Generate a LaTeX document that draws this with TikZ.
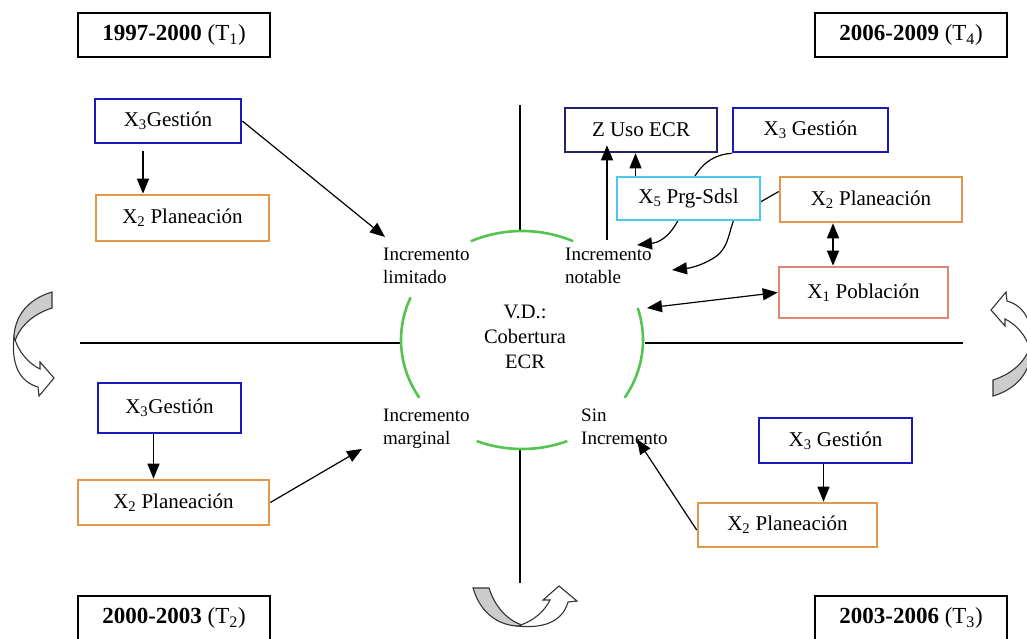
\documentclass[tikz,border=0pt]{standalone}
\usepackage{fontspec}
\setmainfont{Liberation Serif}
\usetikzlibrary{arrows.meta,backgrounds}

\definecolor{gestblue}{RGB}{25,25,190}
\definecolor{usonavy}{RGB}{35,35,105}
\definecolor{planorange}{RGB}{226,152,72}
\definecolor{prgcyan}{RGB}{75,200,240}
\definecolor{pobsalmon}{RGB}{222,135,112}
\definecolor{ringgreen}{RGB}{85,195,80}

\tikzset{
  cyclearrow/.pic={
    \path[draw=black!80,line width=1.1pt,fill=gray!40] (22,-51) .. controls (-5,-43) and (-18,-23) .. (-16,2)
      .. controls (-13,-13) and (0,-28) .. (22,-35) -- cycle;
    \path[draw=black!80,line width=1.1pt,fill=white] (-16,-6) .. controls (-10,12) and (0,21) .. (10,26)
      -- (10,19) -- (24,35) -- (9,53) -- (8,44) .. controls (-10,39) and (-19,22) .. (-16,-6) -- cycle;
  }
}

\begin{document}
\begin{tikzpicture}[x=1pt,y=-1pt,
  >={Triangle[length=15pt,width=12pt]},
  yearbox/.style={draw,line width=1.3pt,minimum width=192pt,minimum height=44pt,font=\fontsize{23}{27}\selectfont},
  varbox/.style={draw=#1,line width=2.6pt,fill=white,inner sep=0pt,font=\fontsize{21}{25}\selectfont},
  tag/.style={anchor=north west,align=left,inner sep=0pt,font=\fontsize{19}{23}\selectfont},
  axis/.style={line width=1.3pt},
  ring/.style={draw=ringgreen,line width=2.6pt},
  arr/.style={->,line width=1.2pt},
  darr/.style={<->,line width=1.2pt}]

\useasboundingbox (0,0) rectangle (1027,638);

% periods
\node[yearbox] (t1) at (174,35) {\textbf{1997-2000} (T\textsubscript{1})};
\node[yearbox] (t4) at (911,35) {\textbf{2006-2009} (T\textsubscript{4})};
\node[yearbox] (t2) at (174,618) {\textbf{2000-2003} (T\textsubscript{2})};
\node[yearbox] (t3) at (911,618) {\textbf{2003-2006} (T\textsubscript{3})};

% axes and ring
\coordinate (ctr) at (522,340);
\draw[axis] (80,343) -- (402,343);
\draw[axis] (645,343) -- (963,343);
\draw[axis] (520,105) -- (520,231);
\draw[axis] (520,449) -- (520,583);
\draw[ring] (ctr) ++(-115:121 and 109) arc[start angle=-115,end angle=-65,x radius=121,y radius=109];
\draw[ring] (ctr) ++(148:121 and 109) arc[start angle=148,end angle=203,x radius=121,y radius=109];
\draw[ring] (ctr) ++(-17:121 and 109) arc[start angle=-17,end angle=32,x radius=121,y radius=109];
\draw[ring] (ctr) ++(68:121 and 109) arc[start angle=68,end angle=112,x radius=121,y radius=109];

\node[align=center,inner sep=0pt,font=\fontsize{20.5}{25}\selectfont] (vd) at (525,337) {V.D.:\\Cobertura\\ECR};
\node[tag] (lim) at (383,248) {Incremento\\limitado};
\node[tag] (notab) at (565,248) {Incremento\\notable};
\node[tag] (marg) at (383,409) {Incremento\\marginal};
\node[tag] (sin) at (581,409) {Sin\\Incremento};

% T1
\node[varbox=gestblue,minimum width=146pt,minimum height=44pt] (g1) at (168,121) {X\textsubscript{3}Gestión};
\node[varbox=planorange,minimum width=173pt,minimum height=46pt] (p1) at (182.5,218) {X\textsubscript{2} Planeación};
\draw[arr] ([shift={(-25,7)}]g1.south) -- ([xshift=-25]g1.south |- p1.north);
\draw[arr] (g1.east) -- ([shift={(2,-11)}]lim.north west);

% T2
\node[varbox=gestblue,minimum width=143pt,minimum height=50pt] (g2) at (169.5,408) {X\textsubscript{3}Gestión};
\node[varbox=planorange,minimum width=191pt,minimum height=45pt] (p2) at (173.5,502.5) {X\textsubscript{2} Planeación};
\draw[arr] ([xshift=-16]g2.south) -- ([xshift=-16]g2.south |- p2.north);
\draw[arr] (p2.east) -- ([shift={(-21,0)}]marg.south west);

% T3
\node[varbox=gestblue,minimum width=153pt,minimum height=45pt] (g3) at (835.5,440.5) {X\textsubscript{3} Gestión};
\node[varbox=planorange,minimum width=179pt,minimum height=44pt] (p3) at (787.5,525) {X\textsubscript{2} Planeación};
\draw[arr] ([xshift=-12]g3.south) -- ([xshift=-12]g3.south |- p3.north);
\draw[arr] ([yshift=-5]p3.west) -- ([shift={(56,-6)}]sin.south west);

% T4
\node[varbox=usonavy,minimum width=152pt,minimum height=44pt] (z) at (641,130) {Z Uso ECR};
\node[varbox=gestblue,minimum width=155pt,minimum height=44pt] (g4) at (810.5,130) {X\textsubscript{3} Gestión};
\node[varbox=prgcyan,minimum width=143pt,minimum height=43pt] (prg) at (688.5,198.5) {X\textsubscript{5} Prg-Sdsl};
\node[varbox=planorange,minimum width=182pt,minimum height=45pt] (p4) at (871,199.5) {X\textsubscript{2} Planeación};
\node[varbox=pobsalmon,minimum width=169pt,minimum height=51pt] (pob) at (863.5,292.5) {X\textsubscript{1} Población};
\coordinate (ringR) at (647,308);

\draw[arr] ([shift={(42,-8)}]notab.north west) -- ([shift={(42,-8)}]notab.north west |- z.south);
\draw[arr] ([xshift=-53]prg.north) -- ([xshift=-53]prg.north |- z.south);
\draw[darr] ([xshift=-38]p4.south) -- ([xshift=-38]p4.south |- pob.north);
\draw[darr] (pob.west) -- (ringR);

\begin{pgfonlayer}{background}
\path[fill=white] (0,0) rectangle (1027,638);
\draw[arr] (g4.south west) .. controls (705,155) and (692,175) .. (685,200)
  .. controls (680,225) and (665,242) .. ([shift={(72,-3)}]notab.north west);
\draw[arr] ([yshift=8]p4.west) -- (750,208) .. controls (738,210) and (735,214) .. (733,222)
  .. controls (728,236) and (728,250) .. (712,259) .. controls (700,266) and (690,268) .. ([shift={(107,22)}]notab.north west);
\end{pgfonlayer}

% cycle arrows
\pic at (30,343) {cyclearrow};
\pic[rotate=180] at (1015,345) {cyclearrow};
\pic[rotate=90] at (524,610) {cyclearrow};
\end{tikzpicture}
\end{document}
